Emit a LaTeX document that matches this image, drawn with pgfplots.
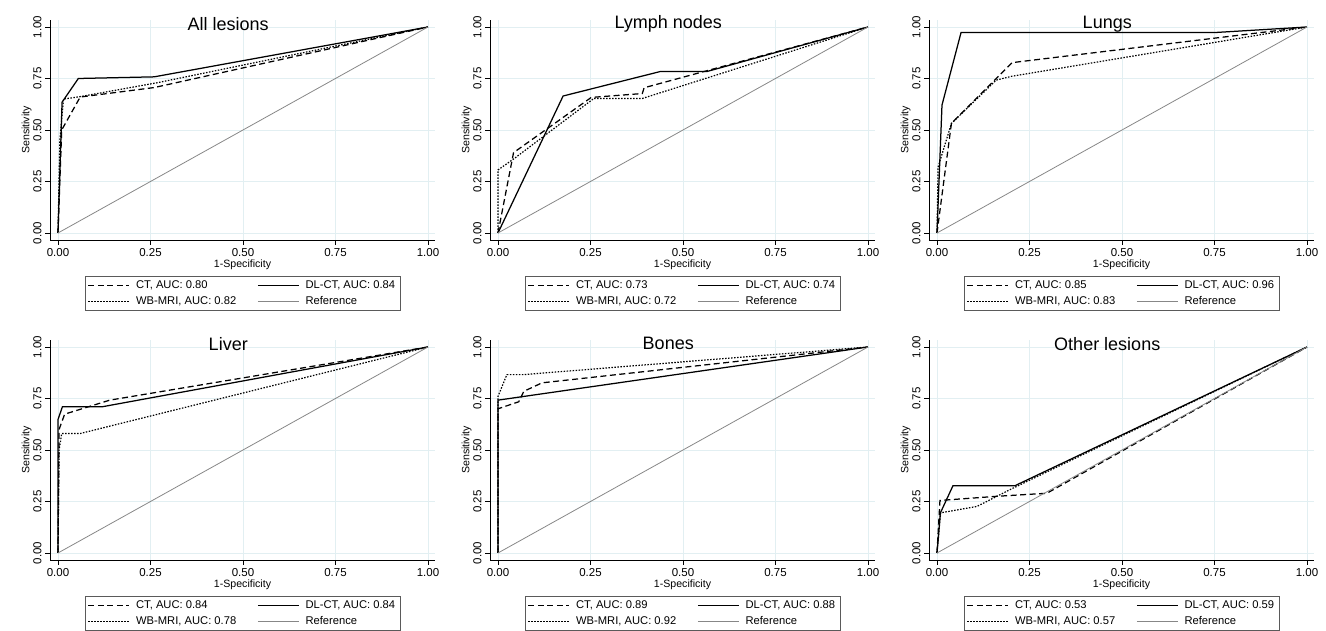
\documentclass[border=0pt]{standalone}
\usepackage{fontspec}
\setmainfont{Liberation Sans}
\usepackage{pgfplots}
\pgfplotsset{compat=1.18}

\definecolor{gridc}{RGB}{226,239,242}
\definecolor{refgray}{RGB}{135,135,135}
\definecolor{boxgray}{RGB}{90,90,90}

% one panel of the 2x3 ROC grid; 1pt here = 1px of the reference
\pgfplotsset{
    rocpanel/.style={
        scale only axis,
        width=385pt, height=220pt,
        xmin=-0.0216, xmax=1.019,
        ymin=-0.034, ymax=1.034,
        axis x line*=bottom, axis y line*=left,
        axis line style={-, black, line width=0.6pt},
        xtick={0,0.25,0.5,0.75,1}, ytick={0,0.25,0.5,0.75,1},
        xticklabels={0.00,0.25,0.50,0.75,1.00},
        yticklabels={0.00,0.25,0.50,0.75,1.00},
        tick align=outside, major tick length=5pt,
        tick style={black, line width=0.6pt},
        ticklabel style={font=\fontsize{11.5}{12}\selectfont},
        yticklabel style={rotate=90, anchor=south},
        xmajorgrids, ymajorgrids,
        major grid style={gridc, line width=0.7pt},
        xlabel={1-Specificity}, ylabel={Sensitivity},
        label style={font=\fontsize{10.6}{11}\selectfont},
        xlabel style={yshift=4pt},
        ylabel style={yshift=-5pt},
        title style={at={(axis description cs:0.463,0.955)}, anchor=center,
            font=\fontsize{18}{18}\selectfont},
        legend columns=2,
        legend style={at={(0.5,-0.165)}, anchor=north, draw=boxgray,
            line width=0.6pt, font=\fontsize{11.2}{12}\selectfont,
            cells={anchor=west}, inner xsep=3pt, inner ysep=2pt, row sep=2.5pt,
            /tikz/every even column/.append style={column sep=19pt}},
        legend image code/.code={\draw[#1] (0pt,0pt) -- (41pt,0pt); \path (45pt,0pt);},
    },
    ctline/.style={black, line width=1.25pt, dash pattern=on 6pt off 3.5pt},
    dlline/.style={black, line width=1.25pt},
    mriline/.style={black, line width=1.2pt, dash pattern=on 1.5pt off 1.5pt},
    refline/.style={refgray, line width=0.8pt},
}

\begin{document}
\begin{tikzpicture}

% ---- All lesions
\begin{axis}[rocpanel, at={(50pt,391pt)}, anchor=south west, title={All lesions}]
\addplot[ctline] coordinates {(0,0) (0.01,0.50) (0.06,0.66) (0.26,0.706) (1,1)};
\addplot[dlline] coordinates {(0,0) (0.011,0.635) (0.055,0.75) (0.26,0.758) (1,1)};
\addplot[mriline] coordinates {(0,0) (0.005,0.45) (0.015,0.65) (0.06,0.662) (0.27,0.73) (1,1)};
\addplot[refline] coordinates {(0,0) (1,1)};
\legend{{CT, AUC: 0.80},{DL-CT, AUC: 0.84},{WB-MRI, AUC: 0.82},Reference}
\end{axis}

% ---- Lymph nodes
\begin{axis}[rocpanel, at={(490pt,391pt)}, anchor=south west, title={Lymph nodes}]
\addplot[ctline] coordinates {(0,0) (0.042,0.39) (0.252,0.658) (0.39,0.677) (0.395,0.705) (1,1)};
\addplot[dlline] coordinates {(0,0) (0.176,0.665) (0.439,0.784) (0.565,0.784) (1,1)};
\addplot[mriline] coordinates {(0,0) (0,0.306) (0.045,0.363) (0.259,0.653) (0.39,0.653) (1,1)};
\addplot[refline] coordinates {(0,0) (1,1)};
\legend{{CT, AUC: 0.73},{DL-CT, AUC: 0.74},{WB-MRI, AUC: 0.72},Reference}
\end{axis}

% ---- Lungs
\begin{axis}[rocpanel, at={(929pt,391pt)}, anchor=south west, title={Lungs}]
\addplot[ctline] coordinates {(0,0) (0.039,0.532) (0.203,0.827) (1,1)};
\addplot[dlline] coordinates {(0,0) (0.0135,0.621) (0.065,0.973) (0.75,0.973) (1,1)};
\addplot[mriline] coordinates {(0,0) (0.003,0.32) (0.039,0.532) (0.16,0.742) (0.2,0.76) (1,1)};
\addplot[refline] coordinates {(0,0) (1,1)};
\legend{{CT, AUC: 0.85},{DL-CT, AUC: 0.96},{WB-MRI, AUC: 0.83},Reference}
\end{axis}

% ---- Liver
\begin{axis}[rocpanel, at={(50pt,71pt)}, anchor=south west, title={Liver}]
\addplot[ctline] coordinates {(0,0) (0.003,0.6) (0.018,0.674) (0.14,0.742) (1,1)};
\addplot[dlline] coordinates {(0,0) (0,0.648) (0.012,0.71) (0.12,0.71) (1,1)};
\addplot[mriline] coordinates {(0,0) (0.003,0.5) (0.01,0.58) (0.06,0.58) (1,1)};
\addplot[refline] coordinates {(0,0) (1,1)};
\legend{{CT, AUC: 0.84},{DL-CT, AUC: 0.84},{WB-MRI, AUC: 0.78},Reference}
\end{axis}

% ---- Bones
\begin{axis}[rocpanel, at={(490pt,71pt)}, anchor=south west, title={Bones}]
\addplot[ctline] coordinates {(0,0) (0,0.70) (0.056,0.734) (0.07,0.785) (0.119,0.826) (1,1)};
\addplot[dlline] coordinates {(0,0) (0,0.742) (1,1)};
\addplot[mriline] coordinates {(0,0) (0,0.76) (0.024,0.866) (0.07,0.866) (1,1)};
\addplot[refline] coordinates {(0,0) (1,1)};
\legend{{CT, AUC: 0.89},{DL-CT, AUC: 0.88},{WB-MRI, AUC: 0.92},Reference}
\end{axis}

% ---- Other lesions
\begin{axis}[rocpanel, at={(929pt,71pt)}, anchor=south west, title={Other lesions}]
\addplot[ctline] coordinates {(0,0) (0.008,0.255) (0.16,0.275) (0.297,0.29) (1,1)};
\addplot[dlline] coordinates {(0,0) (0.009,0.194) (0.043,0.326) (0.21,0.326) (1,1)};
\addplot[mriline] coordinates {(0,0) (0.01,0.195) (0.108,0.226) (0.2,0.31) (1,1)};
\addplot[refline] coordinates {(0,0) (1,1)};
\legend{{CT, AUC: 0.53},{DL-CT, AUC: 0.59},{WB-MRI, AUC: 0.57},Reference}
\end{axis}

\pgfresetboundingbox
\path (0pt,0pt) rectangle (1326pt,631pt);
\end{tikzpicture}
\end{document}
